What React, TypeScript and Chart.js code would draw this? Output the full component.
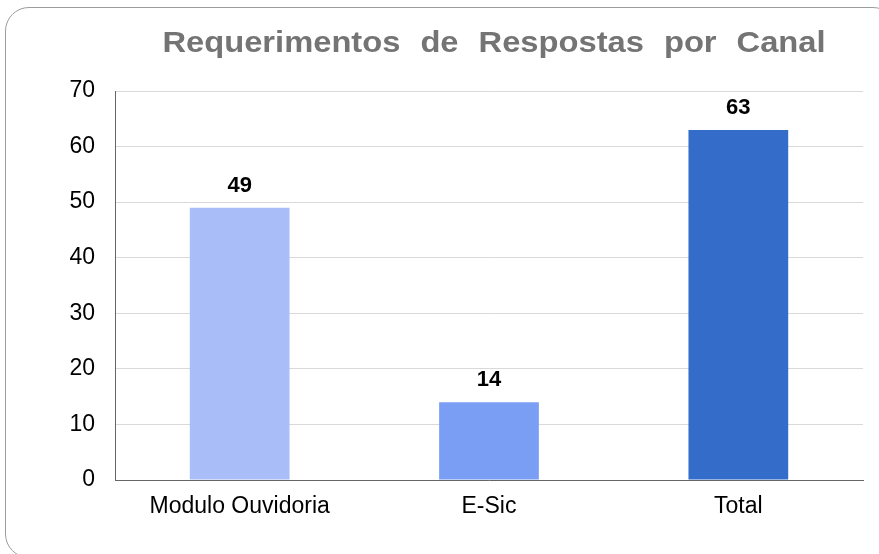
import React, { useEffect, useRef } from "react";
import { Chart, registerables } from "chart.js";

Chart.register(...registerables);

const TITLE = "Requerimentos de Respostas por Canal";
const categories = ["Modulo Ouvidoria", "E-Sic", "Total"];
const values = [49, 14, 63];
const barColors = ["#a9bdf8", "#7b9ef5", "#346cc9"];
const yTicks = [0, 10, 20, 30, 40, 50, 60, 70];

const FONT = "'Liberation Sans', Arial, sans-serif";

const titlePlugin = {
  id: "customTitle",
  afterDraw(chart: any) {
    const ctx = chart.ctx;
    ctx.save();
    ctx.font = `bold 30px ${FONT}`;
    ctx.fillStyle = "#747474";
    try {
      (ctx as any).letterSpacing = "0px";
      (ctx as any).wordSpacing = "10px";
    } catch (e) {}
    ctx.textAlign = "center";
    ctx.textBaseline = "middle";
    ctx.translate(494, 44);
    ctx.scale(1.09, 1);
    ctx.fillText(TITLE, 0, 0);
    ctx.restore();
  },
};

const labelPlugin = {
  id: "barLabels",
  afterDatasetsDraw(chart: any) {
    const ctx = chart.ctx;
    const meta = chart.getDatasetMeta(0);
    ctx.save();
    ctx.font = `bold 22px ${FONT}`;
    ctx.fillStyle = "#000000";
    ctx.textAlign = "center";
    ctx.textBaseline = "middle";
    meta.data.forEach((bar: any, i: number) => {
      ctx.fillText(String(values[i]), bar.x, bar.y - 22);
    });
    ctx.restore();
  },
};

export default function App() {
  const ref = useRef<HTMLCanvasElement | null>(null);

  useEffect(() => {
    if (!ref.current) return;
    const chart = new Chart(ref.current, {
      type: "bar",
      data: {
        labels: categories,
        datasets: [
          {
            data: values,
            backgroundColor: barColors,
            borderWidth: 0,
            barPercentage: 0.4,
            categoryPercentage: 1,
          },
        ],
      },
      options: {
        animation: false,
        responsive: false,
        maintainAspectRatio: false,
        layout: { padding: { top: 91, right: 16, left: 0, bottom: 0 } },
        plugins: {
          legend: { display: false },
          title: { display: false },
          tooltip: { enabled: false },
        },
        scales: {
          x: {
            afterFit: (s: any) => {
              s.height = 74;
            },
            grid: { display: false, drawTicks: false },
            border: { display: true, color: "#666666", width: 1 },
            ticks: {
              color: "#000000",
              font: { family: FONT, size: 23 },
              padding: 13,
              maxRotation: 0,
            },
          },
          y: {
            min: 0,
            max: 70,
            afterFit: (s: any) => {
              s.width = 115;
            },
            afterBuildTicks: (s: any) => {
              s.ticks = yTicks.map((v) => ({ value: v }));
            },
            grid: { color: "#d9d9d9", lineWidth: 1, drawTicks: false },
            border: { display: true, color: "#666666", width: 1 },
            ticks: {
              color: "#000000",
              font: { family: FONT, size: 23 },
              padding: 20,
            },
          },
        },
      },
      plugins: [titlePlugin, labelPlugin],
    });
    return () => chart.destroy();
  }, []);

  return (
    <div
      style={{
        position: "fixed",
        left: 0,
        top: 0,
        width: 879,
        height: 554,
        overflow: "hidden",
        background: "#ffffff",
      }}
    >
      <div
        style={{
          position: "absolute",
          left: 5,
          top: 7,
          width: 892,
          height: 551,
          border: "1px solid #9c9c9c",
          borderRadius: 24,
          boxSizing: "border-box",
        }}
      />
      <canvas
        ref={ref}
        width={879}
        height={554}
        style={{ position: "absolute", left: 0, top: 0, width: 879, height: 554 }}
      />
    </div>
  );
}
